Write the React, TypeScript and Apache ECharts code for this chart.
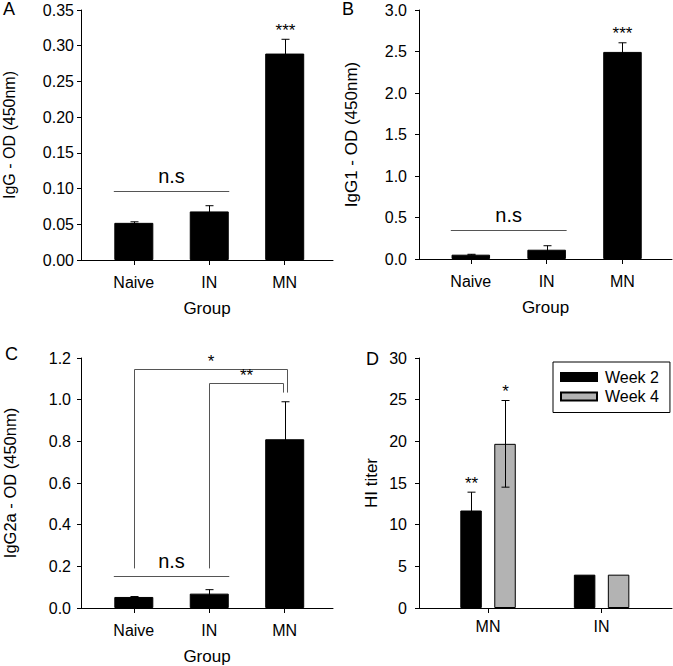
import React, { useEffect, useRef } from 'react';
import * as echarts from 'echarts';

// ---------- data ----------
const groups = ['Naive', 'IN', 'MN'];
const groupPos = [1, 2, 3];

const igGMean = [0.052, 0.068, 0.289];
const igGErr = [0.0015, 0.008, 0.02];
const igGStars = ['', '', '***'];

const igG1Mean = [0.052, 0.112, 2.495];
const igG1Err = [0.005, 0.048, 0.11];
const igG1Stars = ['', '', '***'];

const igG2aMean = [0.053, 0.069, 0.81];
const igG2aErr = [0.002, 0.019, 0.18];
const igG2aStars = ['', '', ''];

const nsLevels = [0.096, 0.35, 0.152]; // panels A, B, C

const bracketFrom = [1, 2];
const bracketTo = [3, 3];
const bracketBase = [0.19, 0.19];
const bracketTop = [1.147, 1.082];
const bracketEnd = [1.034, 1.034];
const bracketLabels = ['*', '**'];

const hiGroups = ['MN', 'IN'];
const hiPos = [1, 2];
const week2Mean = [11.7, 4];
const week2Err = [2.2, 0];
const week2Stars = ['**', ''];
const week4Mean = [19.7, 4];
const week4Err = [5.2, 0];
const week4Stars = ['*', ''];

// ---------- helpers ----------
const FONT = '"Liberation Sans", Arial, sans-serif';

function errSeries(gi: number, xs: number[], means: number[], errs: number[], stars: string[], dx: number) {
  return {
    type: 'custom',
    xAxisIndex: gi,
    yAxisIndex: gi,
    z: 5,
    silent: true,
    data: xs.map((x, i) => [x, means[i] - errs[i], means[i] + errs[i]]),
    renderItem: (params: any, api: any) => {
      const x = api.value(0);
      const lo = api.coord([x, api.value(1)]);
      const hi = api.coord([x, api.value(2)]);
      const cx = Math.round(hi[0] + dx) + 0.5;
      const children: any[] = [];
      const st = { stroke: '#000', lineWidth: 1 };
      if (Math.abs(hi[1] - lo[1]) > 0.5) {
        children.push({ type: 'line', shape: { x1: cx, y1: hi[1], x2: cx, y2: lo[1] }, style: st });
        children.push({ type: 'line', shape: { x1: cx - 4, y1: hi[1], x2: cx + 4, y2: hi[1] }, style: st });
        children.push({ type: 'line', shape: { x1: cx - 4, y1: lo[1], x2: cx + 4, y2: lo[1] }, style: st });
      }
      const s = stars[params.dataIndex];
      if (s) {
        children.push({
          type: 'text',
          style: { text: s, x: cx, y: hi[1] - 9, align: 'center', verticalAlign: 'middle', fontSize: 17, fill: '#000', fontFamily: FONT },
        });
      }
      return { type: 'group', children };
    },
  };
}

function nsSeries(gi: number, level: number) {
  return {
    type: 'custom',
    xAxisIndex: gi,
    yAxisIndex: gi,
    z: 6,
    silent: true,
    data: [[groupPos[0], level, groupPos[1]]],
    renderItem: (params: any, api: any) => {
      const p1 = api.coord([api.value(0), api.value(1)]);
      const p2 = api.coord([api.value(2), api.value(1)]);
      const y = Math.round(p1[1]) + 0.5;
      return {
        type: 'group',
        children: [
          { type: 'line', shape: { x1: p1[0] - 20, y1: y, x2: p2[0] + 20, y2: y }, style: { stroke: '#555', lineWidth: 1 } },
          {
            type: 'text',
            style: { text: 'n.s', x: (p1[0] + p2[0]) / 2, y: y - 16, align: 'center', verticalAlign: 'middle', fontSize: 20, fill: '#000', fontFamily: FONT },
          },
        ],
      };
    },
  };
}

function bracketSeries(gi: number) {
  const rightShift = [2, -2];
  return {
    type: 'custom',
    xAxisIndex: gi,
    yAxisIndex: gi,
    z: 6,
    silent: true,
    data: bracketFrom.map((f, i) => [f, bracketBase[i], bracketTo[i], bracketTop[i], bracketEnd[i]]),
    renderItem: (params: any, api: any) => {
      const i = params.dataIndex;
      const a = api.coord([api.value(0), api.value(1)]);
      const t1 = api.coord([api.value(0), api.value(3)]);
      const t2 = api.coord([api.value(2), api.value(3)]);
      const e = api.coord([api.value(2), api.value(4)]);
      const xl = Math.round(a[0]) + 0.5;
      const xr = Math.round(t2[0] + rightShift[i]) + 0.5;
      const yt = Math.round(t1[1]) + 0.5;
      return {
        type: 'group',
        children: [
          {
            type: 'polyline',
            shape: { points: [[xl, a[1]], [xl, yt], [xr, yt], [xr, e[1]]] },
            style: { stroke: '#555', lineWidth: 1, fill: 'none' },
          },
          {
            type: 'text',
            style: { text: bracketLabels[i], x: (xl + xr) / 2, y: yt - 8, align: 'center', verticalAlign: 'middle', fontSize: 17, fill: '#000', fontFamily: FONT },
          },
        ],
      };
    },
  };
}

function xAxisDef(gi: number, min: number, max: number, pos: number[], names: string[], showName: boolean, labelMargin: number) {
  return {
    type: 'value',
    gridIndex: gi,
    min,
    max,
    name: showName ? 'Group' : '',
    nameLocation: 'middle',
    nameGap: 40,
    nameTextStyle: { fontSize: 17, color: '#000', fontFamily: FONT },
    axisLine: { show: true, lineStyle: { color: '#000', width: 1 } },
    axisTick: { show: true, inside: false, length: 5, customValues: pos, lineStyle: { color: '#000' } },
    axisLabel: {
      show: true,
      customValues: pos,
      margin: labelMargin,
      fontSize: 16,
      color: '#000',
      fontFamily: FONT,
      formatter: (v: number) => names[Math.round(v) - 1] ?? '',
    },
    splitLine: { show: false },
  };
}

function yAxisDef(gi: number, max: number, interval: number, decimals: number, name: string, nameGap: number, nameSize: number, labelMargin: number) {
  return {
    type: 'value',
    gridIndex: gi,
    min: 0,
    max,
    interval,
    name,
    nameLocation: 'middle',
    nameRotate: 90,
    nameGap,
    nameTextStyle: { fontSize: nameSize, color: '#000', fontFamily: FONT },
    axisLine: { show: true, lineStyle: { color: '#000', width: 1 } },
    axisTick: { show: true, inside: false, length: 4, lineStyle: { color: '#000' } },
    axisLabel: { margin: labelMargin, fontSize: 16, color: '#000', fontFamily: FONT, formatter: (v: number) => v.toFixed(decimals) },
    splitLine: { show: false },
  };
}

function barSeries(gi: number, name: string, xs: number[], vals: number[], color: string, width: number, gap?: string) {
  const s: any = {
    type: 'bar',
    name,
    xAxisIndex: gi,
    yAxisIndex: gi,
    barWidth: width,
    data: xs.map((x, i) => [x, vals[i]]),
    itemStyle: { color, borderColor: '#000', borderWidth: 1 },
    z: 2,
  };
  if (gap) s.barGap = gap;
  return s;
}

export default function App() {
  const ref = useRef<HTMLDivElement>(null);
  useEffect(() => {
    if (!ref.current) return;
    const chart = echarts.init(ref.current, undefined, { renderer: 'svg' });
    const option: any = {
      animation: false,
      backgroundColor: '#fff',
      textStyle: { fontFamily: FONT },
      grid: [
        { left: 80, top: 10, width: 253, height: 250 },
        { left: 419, top: 10, width: 253, height: 249 },
        { left: 80, top: 358, width: 253, height: 250 },
        { left: 419, top: 358, width: 253, height: 250 },
      ],
      xAxis: [
        xAxisDef(0, 0.3, 3.64, groupPos, groups, true, 14),
        xAxisDef(1, 0.317, 3.653, groupPos, groups, true, 14),
        xAxisDef(2, 0.3, 3.64, groupPos, groups, true, 14),
        xAxisDef(3, 0.392, 2.62, hiPos, hiGroups, false, 10),
      ],
      yAxis: [
        yAxisDef(0, 0.35, 0.05, 2, 'IgG - OD (450nm)', 64, 16, 7),
        yAxisDef(1, 3.0, 0.5, 1, 'IgG1 - OD (450nm)', 59, 17, 12),
        yAxisDef(2, 1.2, 0.2, 1, 'IgG2a - OD (450nm)', 63, 16.5, 10),
        yAxisDef(3, 30, 5, 0, 'HI titer', 39, 17, 12),
      ],
      legend: {
        data: ['Week 2', 'Week 4'],
        orient: 'vertical',
        left: 553,
        top: 362,
        icon: 'rect',
        itemWidth: 36,
        itemHeight: 8,
        itemGap: 3.5,
        padding: [7, 11, 8, 7],
        borderColor: '#000',
        borderWidth: 1,
        textStyle: { fontSize: 16, color: '#000', fontFamily: FONT, padding: [0, 0, 0, 3] },
      },
      graphic: [
        { type: 'text', left: 3, top: 0, style: { text: 'A', fontSize: 18, fill: '#000', fontFamily: FONT } },
        { type: 'text', left: 342, top: 0, style: { text: 'B', fontSize: 18, fill: '#000', fontFamily: FONT } },
        { type: 'text', left: 5, top: 345, style: { text: 'C', fontSize: 18, fill: '#000', fontFamily: FONT } },
        { type: 'text', left: 366, top: 350, style: { text: 'D', fontSize: 18, fill: '#000', fontFamily: FONT } },
      ],
      series: [
        barSeries(0, 'IgG', groupPos, igGMean, '#000', 39),
        errSeries(0, groupPos, igGMean, igGErr, igGStars, 0),
        nsSeries(0, nsLevels[0]),
        barSeries(1, 'IgG1', groupPos, igG1Mean, '#000', 38.5),
        errSeries(1, groupPos, igG1Mean, igG1Err, igG1Stars, 0),
        nsSeries(1, nsLevels[1]),
        barSeries(2, 'IgG2a', groupPos, igG2aMean, '#000', 39),
        errSeries(2, groupPos, igG2aMean, igG2aErr, igG2aStars, 0),
        nsSeries(2, nsLevels[2]),
        bracketSeries(2),
        barSeries(3, 'Week 2', hiPos, week2Mean, '#000', 21.5, '58%'),
        barSeries(3, 'Week 4', hiPos, week4Mean, '#b3b3b3', 21.5, '58%'),
        errSeries(3, hiPos, week2Mean, week2Err, week2Stars, -17),
        errSeries(3, hiPos, week4Mean, week4Err, week4Stars, 17),
      ],
    };
    chart.setOption(option);
    return () => chart.dispose();
  }, []);
  return <div ref={ref} style={{ position: 'absolute', left: 0, top: 0, width: 673, height: 666 }} />;
}
